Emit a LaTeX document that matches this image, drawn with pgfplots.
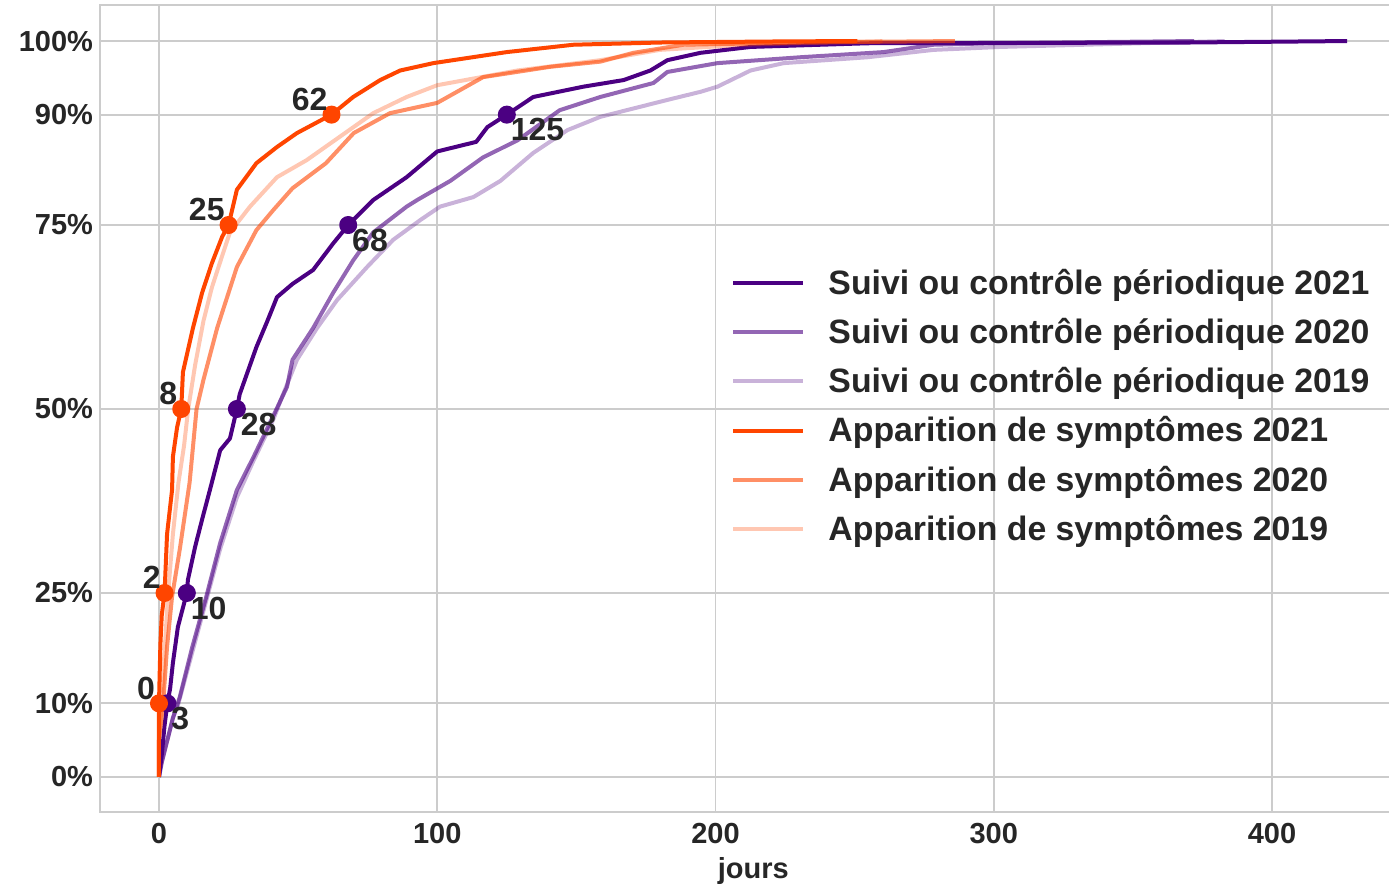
\documentclass[border=0pt]{standalone}
\usepackage{pgfplots}
\pgfplotsset{compat=1.18}
\usepackage{fontspec}
\setmainfont{Liberation Sans}
\definecolor{pur}{HTML}{4B0082}
\definecolor{ora}{HTML}{FF4500}
\definecolor{txt}{HTML}{262626}
\definecolor{gridc}{HTML}{CCCCCC}
\begin{document}
\begin{tikzpicture}
\begin{axis}[
  name=ax,
  scale only axis,
  width=653.3pt, height=403.5pt,
  xmin=-21.2, xmax=448.35, ymin=-4.76, ymax=104.9,
  xtick={0,100,200,300,400},
  ytick={0,10,25,50,75,90,100},
  yticklabels={0\%,10\%,25\%,50\%,75\%,90\%,100\%},
  grid=major,
  major grid style={gridc, line width=0.9pt},
  axis line style={gridc, line width=1.2pt},
  major tick length=0pt,
  /pgf/number format/assume math mode=true,
  tick label style={font=\fontsize{14.5}{17}\selectfont\bfseries, text=txt},
  xticklabel style={yshift=-2pt},
  yticklabel style={xshift=0pt},
  xlabel={jours},
  xlabel style={font=\fontsize{14.5}{17}\selectfont\bfseries, text=txt, yshift=0pt},
  legend cell align=left,
  legend style={at={(0.483,0.503)}, anchor=west, draw=none, fill=none, inner sep=0pt,
    font=\fontsize{16.9}{19}\selectfont\bfseries, text=txt,
    row sep=8.5pt,
    nodes={inner sep=1pt},
    /tikz/every odd column/.append style={column sep=10.5pt}},
  legend image code/.code={\draw[#1, line width=2pt] (0pt,0pt) -- (35pt,0pt);},
  every axis plot/.append style={line width=2pt, line join=round},
]
% Suivi 2021
\addplot[pur, mark=none] coordinates {(0,0) (1,3) (2,7) (3,10) (4,12) (5,15.5) (6.8,20.4) (10,25) (10.4,26.8) (13,31.3) (15.5,35) (18.3,39) (22,44.4) (25.5,46) (28,50) (29,52) (35,58.4) (39,62) (42.4,65.2) (48,67) (55.4,68.9) (62.6,72.5) (68,75) (77,78.4) (89,81.5) (100,85) (114,86.3) (118,88.3) (125,90) (134.5,92.4) (152.5,93.8) (167,94.7) (176.6,96) (182.7,97.4) (194.6,98.4) (212.6,99.2) (254.7,99.7) (370,99.8) (427,100)};
\addlegendentry{Suivi ou contrôle périodique 2021}
% Suivi 2020
\addplot[pur, opacity=0.6, mark=none] coordinates {(0,0) (1,2) (3,5) (5,8) (7.5,10.9) (12,17.7) (17,24.5) (22,31.8) (28,39) (34,43.5) (41,49) (46,53) (48,56.7) (55.4,61) (62.6,65.8) (69.8,70.2) (77,74) (89,77.5) (92.8,78.4) (104.7,81) (116.5,84.2) (128.8,86.5) (144,90.6) (158.6,92.4) (177.7,94.3) (182.7,95.8) (200.7,97) (230.6,97.8) (260.4,98.5) (278.4,99.5) (300,99.7) (372,100)};
\addlegendentry{Suivi ou contrôle périodique 2020}
% Suivi 2019
\addplot[pur, opacity=0.3, mark=none] coordinates {(0,0) (1,2) (3,5) (5,8) (7,10) (12,17) (17,24) (22,31) (28,38) (34,43) (41,48.5) (44.6,52) (49.6,56.7) (56.8,61) (64,64.8) (74.8,69.3) (84.2,73) (94,75.7) (101,77.5) (113,78.8) (122.7,81) (134.5,84.8) (146.8,87.9) (158.6,89.7) (182.7,92) (194.6,93.1) (200.7,93.8) (212.6,96) (224.5,97) (254.7,97.8) (278.4,98.8) (302.5,99.2) (383,100)};
\addlegendentry{Suivi ou contrôle périodique 2019}
% Symptomes 2021
\addplot[ora, mark=none] coordinates {(0,0) (0,10) (0.5,18) (1,22) (2,25) (2.9,33) (4.7,39) (5,43.5) (6.5,47.5) (8,50) (8.6,55) (12.2,61) (15.5,65.8) (19,69.8) (22.7,73.4) (25,75) (28,79.8) (35,83.4) (42.4,85.6) (49.6,87.5) (62,90) (69.8,92.4) (79.5,94.7) (86.7,96) (98.6,97) (125,98.5) (149,99.5) (180,99.8) (224,99.95) (251,100)};
\addlegendentry{Apparition de symptômes 2021}
% Symptomes 2020
\addplot[ora, opacity=0.6, mark=none] coordinates {(0,0) (0,5) (1.5,10) (2.9,17.7) (4.7,24.5) (7.5,31) (11,40) (13.5,50) (16,54) (20.9,61) (28,69.3) (35,74.3) (41,77) (48,80) (60,83.4) (70,87.5) (83,90.2) (100,91.6) (116.5,95.1) (140.6,96.5) (158.6,97.2) (170.5,98.4) (188.5,99.5) (230,99.8) (286,100)};
\addlegendentry{Apparition de symptômes 2020}
% Symptomes 2019
\addplot[ora, opacity=0.3, mark=none] coordinates {(0,0) (0,5) (1,10) (2,17) (3.3,25) (5,33) (7,40) (9,45) (10.5,50) (13,56) (16,62) (19,66.5) (22,70) (25.5,74) (32.7,77.5) (42.4,81.5) (53,83.8) (65,87) (77,90.2) (89,92.4) (100,94) (128.8,96) (158.6,97.4) (180,98.8) (210,99.5) (260,100)};
\addlegendentry{Apparition de symptômes 2019}
% markers
\addplot[forget plot, only marks, mark=*, mark size=3.5pt, pur,
  nodes near coords, point meta=explicit symbolic,
  every node near coord/.append style={anchor=north west, inner sep=1pt, text=txt, font=\fontsize{16}{18}\selectfont\bfseries}]
  coordinates {(3,10)[3] (10,25)[10] (28,50)[28] (68,75)[68] (125,90)[125]};
\addplot[forget plot, only marks, mark=*, mark size=3.5pt, ora,
  nodes near coords, point meta=explicit symbolic,
  every node near coord/.append style={anchor=south east, inner sep=1pt, text=txt, font=\fontsize{16}{18}\selectfont\bfseries}]
  coordinates {(0,10)[0] (2,25)[2] (8,50)[8] (25,75)[25] (62,90)[62]};
\end{axis}
\pgfresetboundingbox
\path ([xshift=-50pt,yshift=-37pt]ax.south west) rectangle ([xshift=644.5pt,yshift=2.5pt]ax.north west);
\end{tikzpicture}
\end{document}
